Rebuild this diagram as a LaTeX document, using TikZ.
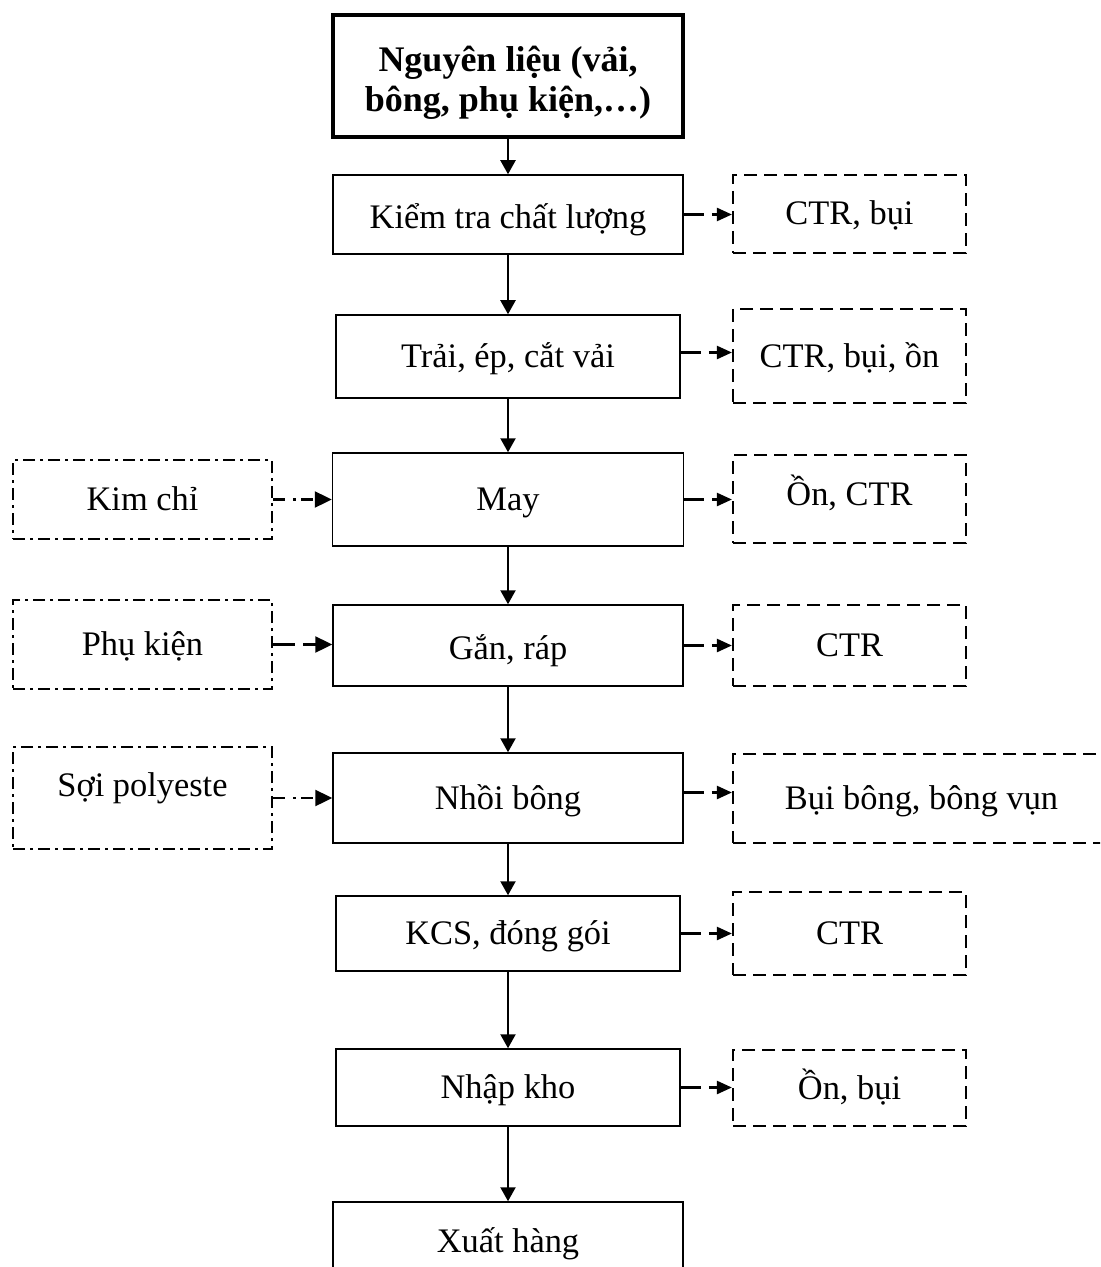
\documentclass[tikz,border=0pt]{standalone}
\usepackage{fontspec}
\setmainfont{Liberation Serif}
\usetikzlibrary{arrows.meta}
\begin{document}
\begin{tikzpicture}[x=0.5pt,y=-0.5pt,
  every node/.style={font=\fontsize{17.2}{20}\selectfont, inner sep=0pt},
  oneline/.style={text height=13pt, text depth=2pt},
  stage/.style={draw, line width=0.75pt, oneline},
  waste/.style={draw, line width=1.1pt, dash pattern=on 6.5pt off 3.5pt, oneline},
  supply/.style={draw, line width=1pt, dash pattern=on 6pt off 2.5pt on 1.5pt off 2.5pt, oneline},
  flow/.style={line width=1.1pt, -{Triangle[length=7pt,width=7.5pt]}},
  outflow/.style={line width=1.2pt, dash pattern=on 10pt off 4pt, -{Triangle[length=7.5pt,width=6.5pt]}},
  inflow/.style={line width=1.2pt, -{Triangle[length=8.5pt,width=8pt]}},
  dotin/.style={inflow, dash pattern=on 6pt off 4pt on 1.5pt off 2.5pt},
  dashin/.style={inflow, dash pattern=on 11pt off 4pt}
]
\useasboundingbox (0,0) rectangle (1100,1267);
\clip (0,0) rectangle (1100,1267);

% main production line
\node[draw, line width=2pt, minimum width=175pt, minimum height=61pt] (raw) at (508,76) {};
\node[align=center, font=\bfseries\fontsize{18}{20}\selectfont] (rawtext) at ([yshift=-3.5pt]raw.center)
      {Nguyên liệu (vải,\\bông, phụ kiện,…)};
\node[stage, minimum width=175pt, minimum height=39.5pt, text height=15pt, text depth=1pt] (kiem) at (508,214.5) {Kiểm tra chất lượng};
\node[stage, minimum width=172pt, minimum height=41.5pt] (trai) at (508,356.5) {Trải, ép, cắt vải};
\node[stage, minimum width=175.5pt, minimum height=46.5pt] (may) at (508,499.5) {May};
\node[stage, minimum width=175pt, minimum height=40.5pt, text height=15pt, text depth=1pt] (gan) at (508,645.5) {Gắn, ráp};
\node[stage, minimum width=175pt, minimum height=45pt] (nhoi) at (508,798) {Nhồi bông};
\node[stage, minimum width=172pt, minimum height=37.5pt] (kcs) at (508,933.5) {KCS, đóng gói};
\node[stage, minimum width=172pt, minimum height=38.5pt] (nhap) at (508,1087.5) {Nhập kho};
\node[stage, minimum width=175pt, minimum height=39pt] (xuat) at (508,1241) {Xuất hàng};

% wastes
\node[waste, minimum width=116.5pt, minimum height=39pt] (w1) at (849.5,214) {CTR, bụi};
\node[waste, minimum width=116.5pt, minimum height=47pt] (w2) at (849.5,356) {CTR, bụi, ồn};
\node[waste, minimum width=116.5pt, minimum height=44pt, text height=11pt, text depth=5pt] (w3) at (849.5,499) {Ồn, CTR};
\node[waste, minimum width=116.5pt, minimum height=40.5pt] (w4) at (849.5,645.5) {CTR};
\node[waste, minimum width=188.5pt, minimum height=44.5pt] (w5) at (921.5,798.5) {Bụi bông, bông vụn};
\node[waste, minimum width=116.5pt, minimum height=41.5pt] (w6) at (849.5,933.5) {CTR};
\node[waste, minimum width=116.5pt, minimum height=38pt] (w7) at (849.5,1088) {Ồn, bụi};

% supplies
\node[supply, minimum width=129.5pt, minimum height=39.5pt] (s1) at (142.5,499.5) {Kim chỉ};
\node[supply, minimum width=129.5pt, minimum height=44.5pt] (s2) at (142.5,644.5) {Phụ kiện};
\node[supply, minimum width=129.5pt, minimum height=51pt, text height=13pt, text depth=15pt] (s3) at (142.5,798) {Sợi polyeste};

% vertical flow
\draw[flow] (raw.south) -- (kiem.north);
\draw[flow] (kiem.south) -- (trai.north);
\draw[flow] (trai.south) -- (may.north);
\draw[flow] (may.south) -- (gan.north);
\draw[flow] (gan.south) -- (nhoi.north);
\draw[flow] (nhoi.south) -- (kcs.north);
\draw[flow] (kcs.south) -- (nhap.north);
\draw[flow] (nhap.south) -- (xuat.north);

% outputs
\draw[outflow] (kiem.east) -- (w1.west |- kiem.east);
\draw[outflow] ([yshift=2pt]trai.east) -- ([yshift=2pt]trai.east -| w2.west);
\draw[outflow] (may.east) -- (w3.west |- may.east);
\draw[outflow] (gan.east) -- (w4.west |- gan.east);
\draw[outflow] ([yshift=2.75pt]nhoi.east) -- ([yshift=2.75pt]nhoi.east -| w5.west);
\draw[outflow] (kcs.east) -- (w6.west |- kcs.east);
\draw[outflow] (nhap.east) -- (w7.west |- nhap.east);

% inputs
\draw[dotin] (s1.east) -- (may.west |- s1.east);
\draw[dashin] (s2.east) -- (gan.west |- s2.east);
\draw[dotin] (s3.east) -- (nhoi.west |- s3.east);
\end{tikzpicture}
\end{document}
